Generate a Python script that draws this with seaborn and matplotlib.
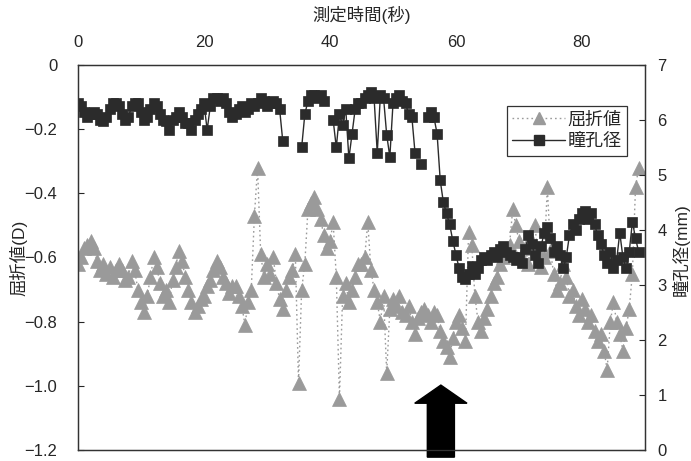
import numpy as np
import pandas as pd
import matplotlib
matplotlib.use("Agg")
import matplotlib.pyplot as plt
import seaborn as sns
from matplotlib.lines import Line2D
from matplotlib.patches import FancyArrow

# measurement time (s), sampled every 0.5 s
time_s = np.arange(0, 89.01, 0.5)

# pupil diameter (mm); nan = no reading
pupil_mm = [
    6.30, 6.25, 6.15, 6.05, 6.10, 6.15, 6.10, 6.00, 5.98, 6.05,
    6.20, 6.30, 6.30, 6.25, 6.10, 6.00, 6.05, 6.25, 6.30, 6.30,
    6.15, 6.00, 6.05, 6.20, 6.30, 6.25, 6.10, 6.00, 5.98, 5.82,
    6.00, 6.05, 6.15, 6.05, 5.95, 5.95, 5.82, 6.00, 6.10, 6.20,
    6.30, 5.82, 6.25, 6.40, 6.40, 6.35, 6.40, 6.30, 6.15, 6.05,
    6.10, 6.20, 6.25, 6.15, 6.20, 6.30, 6.25, 6.30, 6.40, 6.35,
    6.25, 6.30, 6.35, 6.30, 6.20, 5.62, np.nan, np.nan, np.nan, np.nan,
    np.nan, 5.50, 6.10, 6.35, 6.45, 6.45, 6.40, 6.45, 6.35, np.nan,
    np.nan, 6.00, 5.50, 6.10, 5.90, 6.20, 5.30, 5.75, 6.20, 6.30,
    6.30, 6.40, 6.45, 6.50, 6.40, 5.40, 6.45, 6.40, 5.73, 5.33,
    6.30, 6.40, 6.45, 6.35, 6.30, 6.10, 6.05, 5.40, np.nan, 5.20,
    np.nan, 6.05, 6.15, 6.05, 5.75, 4.90, 4.50, 4.30, 4.10, 3.80,
    3.55, 3.30, 3.15, 3.10, 3.20, 3.35, 3.20, 3.30, 3.45, 3.50,
    3.45, 3.55, 3.60, 3.50, 3.65, 3.70, 3.60, 3.55, 3.50, 3.45,
    3.50, 3.40, 3.65, 3.90, 3.75, 3.55, 3.40, 3.70, 3.95, 4.05,
    3.85, 3.60, 3.70, 3.55, 3.30, 3.50, 3.90, 4.10, 4.00, 4.20,
    4.30, 4.35, 4.20, 4.30, 4.10, 3.90, 3.75, 3.55, 3.40, 3.60,
    3.30, 3.45, 3.95, 3.50, 3.30, 3.60, 4.15, 3.85, 3.60,
]

# refraction (D)
refraction_d = [
    -0.62, -0.60, -0.57, -0.56, -0.55, -0.57, -0.61, -0.64, -0.62, -0.65,
    -0.63, -0.66, -0.64, -0.62, -0.64, -0.67, -0.66, -0.61, -0.64, -0.70,
    -0.74, -0.77, -0.72, -0.66, -0.60, -0.63, -0.68, -0.72, -0.70, -0.74,
    -0.67, -0.63, -0.58, -0.61, -0.66, -0.70, -0.74, -0.77, -0.75, -0.73,
    -0.72, -0.69, -0.67, -0.64, -0.61, -0.63, -0.66, -0.68, -0.71, -0.69,
    -0.69, -0.72, -0.75, -0.81, -0.74, -0.70, -0.47, -0.32, -0.59, -0.66,
    -0.62, -0.65, -0.60, -0.68, -0.73, -0.76, -0.70, -0.66, -0.64, -0.59,
    -0.99, -0.70, -0.62, -0.45, -0.43, -0.41, -0.45, -0.48, -0.53, -0.57,
    -0.55, -0.49, -0.66, -1.04, -0.72, -0.68, -0.74, -0.70, -0.66, -0.62,
    -0.62, -0.60, -0.49, -0.64, -0.70, -0.74, -0.80, -0.72, -0.96, -0.76,
    -0.73, -0.75, -0.72, -0.77, -0.78, -0.75, -0.80, -0.84, -0.79, -0.77,
    -0.76, -0.78, -0.80, -0.77, -0.78, -0.83, -0.86, -0.88, -0.91, -0.85,
    -0.80, -0.78, -0.82, -0.86, -0.52, -0.56, -0.72, -0.80, -0.83, -0.79,
    -0.76, -0.72, -0.68, -0.66, -0.62, -0.60, -0.58, -0.56, -0.45, -0.50,
    -0.55, -0.60, -0.57, -0.62, -0.55, -0.50, -0.58, -0.63, -0.60, -0.38,
    -0.58, -0.65, -0.70, -0.68, -0.62, -0.66, -0.72, -0.70, -0.75, -0.78,
    -0.73, -0.76, -0.80, -0.78, -0.83, -0.86, -0.84, -0.89, -0.95, -0.80,
    -0.74, -0.80, -0.84, -0.89, -0.82, -0.76, -0.65, -0.38, -0.32,
]

x_ticks = [0, 20, 40, 60, 80]
left_ticks = [-1.2, -1.0, -0.8, -0.6, -0.4, -0.2, 0]
left_labels = ["\u22121.2", "\u22121.0", "\u22120.8", "\u22120.6", "\u22120.4", "\u22120.2", "0"]
right_ticks = [0, 1, 2, 3, 4, 5, 6, 7]

df = pd.DataFrame({"time": time_s, "refraction": refraction_d, "pupil": pupil_mm})
# split the pupil trace where readings are missing so the line breaks there
df["seg"] = df["pupil"].isna().cumsum()
pupil_df = df.dropna(subset=["pupil"])

sns.set_style("white")
plt.rcParams["font.family"] = ["Liberation Sans", "Noto Sans CJK JP", "DejaVu Sans"]

fig, ax = plt.subplots(figsize=(6.91, 4.61), dpi=100)
fig.subplots_adjust(left=0.1129, right=0.9334, top=0.859, bottom=0.0239)

tri_c = "#9a9a9a"
sq_c = "#2b2b2b"
tri_ls = (0, (1.2, 2.2))

sns.lineplot(data=df, x="time", y="refraction", ax=ax, color=tri_c,
             linestyle=tri_ls, linewidth=1.0, marker="^", markersize=9.5,
             markeredgecolor=tri_c, markeredgewidth=0.5, legend=False)

ax2 = ax.twinx()
sns.lineplot(data=pupil_df, x="time", y="pupil", units="seg", estimator=None, ax=ax2,
             color=sq_c, linewidth=1.0, marker="s", markersize=7,
             markeredgecolor=sq_c, markeredgewidth=0.5, legend=False)

ax.set_xlim(0, 90)
ax.set_ylim(-1.2, 0)
ax2.set_ylim(0, 7)

ax.xaxis.tick_top()
ax.xaxis.set_label_position("top")
ax.set_xticks(x_ticks)
ax.set_yticks(left_ticks)
ax.set_yticklabels(left_labels)
ax2.set_yticks(right_ticks)

ax.tick_params(axis="x", length=0, pad=11, labelsize=12, top=True, bottom=False)
ax.tick_params(axis="y", direction="in", length=4, width=0.8, pad=15, labelsize=12, left=True)
ax2.tick_params(axis="y", direction="in", length=4, width=0.8, pad=9, labelsize=12, right=True)

ax.set_xlabel("測定時間(秒)", fontsize=12.5, labelpad=10)
ax.set_ylabel("屈折値(D)", fontsize=12.5)
ax.yaxis.set_label_coords(-0.09, 0.5)
ax2.set_ylabel("瞳孔径(mm)", fontsize=12.5, labelpad=3)
ax2.yaxis.set_label_coords(1.047, 0.52)

for a in (ax, ax2):
    for s in a.spines.values():
        s.set_linewidth(0.9)
        s.set_color("#333333")

# arrow marking the stimulus time
arrow = FancyArrow(57.6, -0.13, 0, 1.31, width=4.3, head_width=8.3, head_length=0.33,
                   length_includes_head=True, color="black", clip_on=False)
ax2.add_patch(arrow)

handles = [
    Line2D([], [], color=tri_c, linestyle=tri_ls, linewidth=1.0, marker="^",
           markersize=9, markeredgecolor=tri_c),
    Line2D([], [], color=sq_c, linewidth=1.0, marker="s", markersize=7, markeredgecolor=sq_c),
]
leg = ax2.legend(handles, ["屈折値", "瞳孔径"], loc="upper right",
                 bbox_to_anchor=(0.968, 0.893), fontsize=13, frameon=True, fancybox=False,
                 handlelength=2.9, handletextpad=0.15, borderpad=0.3, labelspacing=0.25,
                 borderaxespad=0)
leg.get_frame().set_edgecolor("black")
leg.get_frame().set_linewidth(0.9)

fig.savefig("out.png", dpi=100)
